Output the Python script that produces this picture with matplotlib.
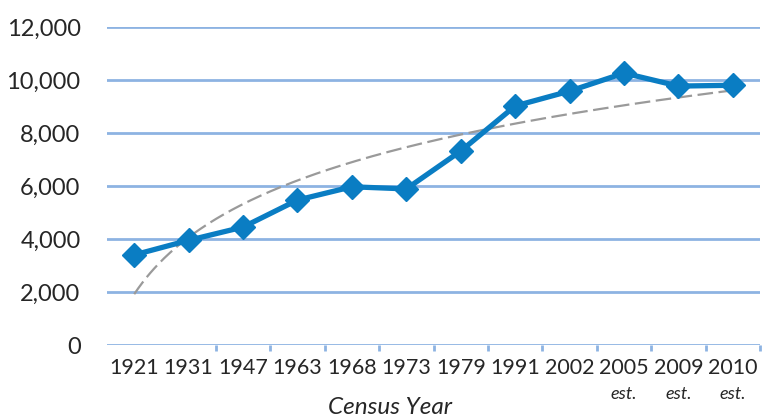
import numpy as np
import matplotlib
matplotlib.use("Agg")
import matplotlib.pyplot as plt

# Census data
years = ["1921", "1931", "1947", "1963", "1968", "1973", "1979",
         "1991", "2002", "2005", "2009", "2010"]
population = [3400, 3950, 4450, 5470, 5970, 5890, 7320,
              9020, 9580, 10260, 9770, 9800]
est_years = ["2005", "2009", "2010"]

plt.rcParams["font.family"] = ["Lato", "DejaVu Sans"]

x = np.arange(len(years))

# logarithmic trend line, like the spreadsheet one
coef = np.polyfit(np.log(x + 1), population, 1)
xt = np.linspace(0, len(years) - 1, 300)
yt = coef[0] * np.log(xt + 1) + coef[1]

fig = plt.figure(figsize=(7.67, 4.19), dpi=100)
ax = fig.add_axes([0.1395, 0.1766, 0.8515, 0.759])

grid_col = "#8db3e2"
blue = "#0a7dc3"

for v in range(0, 12001, 2000):
    ax.axhline(v, color=grid_col, lw=2, zorder=1)

ax.plot(xt, yt, color="#9a9a9a", lw=1.6, ls=(0, (7, 2.5)), zorder=2)
ax.plot(x, population, color=blue, lw=3.8, marker="D", markersize=12.5,
        zorder=3)

ax.set_xlim(-0.5, len(years) - 0.5)
ax.set_ylim(0, 12000)
ax.set_yticks(range(0, 12001, 2000))
ax.set_yticklabels([f"{v:,}" for v in range(0, 12001, 2000)])
ax.set_xticks(x)
ax.set_xticklabels(years)
ax.set_xticks(x[1:] + 0.5, minor=True)

for s in ax.spines.values():
    s.set_visible(False)

ax.tick_params(axis="y", length=0, pad=19, labelsize=17, labelcolor="#262626")
ax.tick_params(axis="x", which="major", length=0, pad=9, labelsize=15.5,
               labelcolor="#262626")
ax.tick_params(axis="x", which="minor", length=4, width=2, color=grid_col)

for yr in est_years:
    i = years.index(yr)
    ax.text(i, -0.155, "est.", transform=ax.get_xaxis_transform(),
            ha="center", va="center", fontsize=13, style="italic",
            color="#262626")

fig.text(390 / 767, 1 - 407 / 419, "Census Year", ha="center", va="center",
         fontsize=17.5, style="italic", color="#262626")

fig.savefig("out.png", dpi=100)
